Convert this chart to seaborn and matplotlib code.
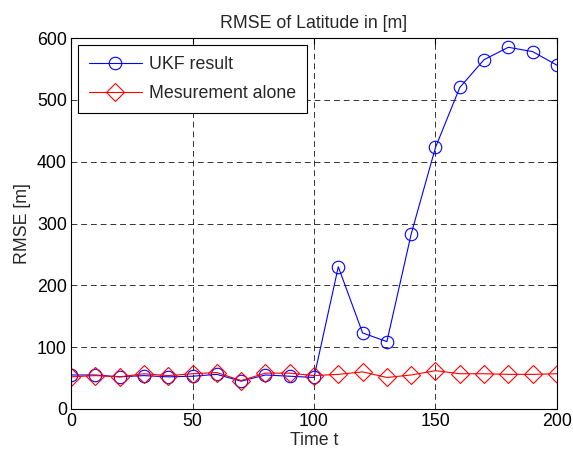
import matplotlib
matplotlib.use("Agg")
import matplotlib.pyplot as plt
import seaborn as sns
import pandas as pd
import numpy as np

time_t = [0, 10, 20, 30, 40, 50, 60, 70, 80, 90, 100, 110, 120, 130, 140, 150, 160, 170, 180, 190, 200]
ukf_result = [55, 55, 52, 54, 52, 53, 56, 45, 55, 53, 51, 230, 123, 109, 283, 423, 520, 565, 585, 578, 556]
measurement_alone = [52, 54, 52, 57, 54, 57, 59, 46, 58, 58, 54, 56, 60, 51, 55, 62, 57, 57, 56, 56, 57]
series_names = ["UKF result", "Mesurement alone"]

sns.set_style("white")
plt.rcParams['font.family'] = ['Liberation Sans', 'DejaVu Sans']

df = pd.DataFrame({
    "t": time_t * 2,
    "rmse": ukf_result + measurement_alone,
    "series": [series_names[0]] * len(time_t) + [series_names[1]] * len(time_t),
})

fig = plt.figure(figsize=(5.73, 4.58), dpi=100)
ax = fig.add_axes([0.124, 0.107, 0.848, 0.810])

sns.lineplot(data=df, x="t", y="rmse", hue="series", style="series",
             palette={series_names[0]: "#0000ff", series_names[1]: "#ff0000"},
             markers={series_names[0]: "o", series_names[1]: "D"},
             dashes=False, markersize=9, linewidth=0.8, ax=ax,
             markerfacecolor="none", markeredgewidth=0.8)

for line in ax.get_lines():
    c = line.get_color()
    line.set_markeredgecolor(c)
    line.set_markerfacecolor("none")

fs = 12.8
ax.set_xlim(0, 200)
ax.set_ylim(0, 600)
ax.set_xticks([0, 50, 100, 150, 200])
ax.set_yticks([0, 100, 200, 300, 400, 500, 600])
ax.grid(True, color="black", linestyle=(0, (6, 4)), linewidth=0.7, alpha=0.8)
for s in ax.spines.values():
    s.set_color("black")
    s.set_linewidth(0.8)
ax.tick_params(direction="in", length=4, width=0.8, labelsize=fs, colors="black",
               top=True, right=True, pad=3)
ax.set_xlabel("Time t", fontsize=fs, labelpad=1)
ax.set_ylabel("RMSE [m]", fontsize=fs, labelpad=4)
ax.set_title("RMSE of Latitude in [m]", fontsize=fs, pad=7)

handles, labels = ax.get_legend_handles_labels()
for h in handles:
    h.set_markerfacecolor("none")
    h.set_markeredgecolor(h.get_color())
leg = ax.legend(handles, labels, loc="upper left", fontsize=fs, fancybox=False,
                edgecolor="black", framealpha=1, handlelength=3.0, handletextpad=0.4,
                labelspacing=0.7, borderaxespad=0.4, borderpad=0.6)
leg.get_frame().set_linewidth(0.8)

fig.savefig("out.png", dpi=100, facecolor="white")
